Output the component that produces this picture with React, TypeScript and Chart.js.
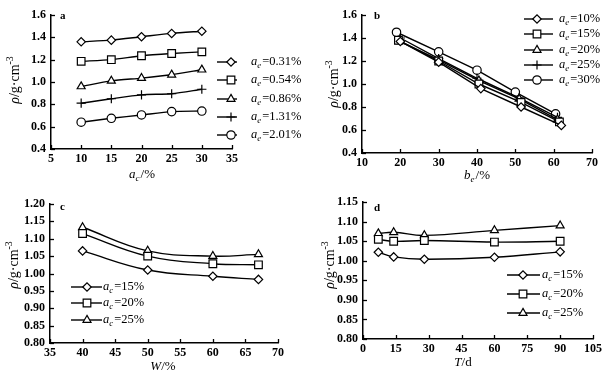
import React, { useEffect, useRef } from 'react';
import { Chart, registerables } from 'chart.js';
import { drawPoint } from 'chart.js/helpers';

Chart.register(...registerables);

const FONT = '"Liberation Serif", "Times New Roman", serif';

// ---------- Panel a : rho vs a_c ----------
const aX = [10, 15, 20, 25, 30];
const aNames = ['=0.31%', '=0.54%', '=0.86%', '=1.31%', '=2.01%'];
const aY031 = [1.36, 1.375, 1.405, 1.435, 1.455];
const aY054 = [1.185, 1.2, 1.235, 1.255, 1.27];
const aY086 = [0.96, 1.01, 1.035, 1.065, 1.11];
const aY131 = [0.81, 0.85, 0.885, 0.895, 0.935];
const aY201 = [0.64, 0.675, 0.705, 0.735, 0.74];

// ---------- Panel b : rho vs b_e ----------
const bNames = ['=10%', '=15%', '=20%', '=25%', '=30%'];
const bX10 = [20, 30, 41, 51.5, 62];
const bY10 = [1.37, 1.19, 0.96, 0.8, 0.64];
const bX15 = [19.5, 30, 40.5, 51.5, 61.5];
const bY15 = [1.38, 1.2, 1.0, 0.84, 0.67];
const bX20 = [20, 30, 40.5, 51, 61];
const bY20 = [1.37, 1.21, 1.03, 0.87, 0.69];
const bX25 = [20, 30, 40, 51, 61];
const bY25 = [1.4, 1.22, 1.05, 0.88, 0.71];
const bX30 = [19, 30, 40, 50, 60.5];
const bY30 = [1.45, 1.28, 1.12, 0.93, 0.74];

// ---------- Panel c : rho vs W ----------
const cX = [40, 50, 60, 67];
const cNames = ['=15%', '=20%', '=25%'];
const cY15 = [1.065, 1.01, 0.992, 0.983];
const cY20 = [1.115, 1.05, 1.028, 1.025];
const cY25 = [1.133, 1.065, 1.05, 1.055];

// ---------- Panel d : rho vs T ----------
const dX = [7, 14, 28, 60, 90];
const dNames = ['=15%', '=20%', '=25%'];
const dY15 = [1.022, 1.01, 1.004, 1.009, 1.023];
const dY20 = [1.055, 1.05, 1.052, 1.048, 1.05];
const dY25 = [1.07, 1.073, 1.065, 1.078, 1.09];

const SHAPES5 = ['rectRot', 'rect', 'triangle', 'cross', 'circle'];
const SHAPES3 = ['rectRot', 'rect', 'triangle'];
const RADIUS: Record<string, number> = { rectRot: 4.2, rect: 5.4, triangle: 4.6, cross: 4.6, circle: 4.2 };

type Part = [string, string];

function setFont(ctx: CanvasRenderingContext2D, style: string, size: number) {
  const italic = style === 'i' || style === 'isub';
  const s = style === 'sub' || style === 'isub' || style === 'sup' ? size * 0.7 : size;
  ctx.font = `${italic ? 'italic ' : ''}${s}px ${FONT}`;
}

function rich(ctx: CanvasRenderingContext2D, parts: Part[], x: number, y: number, size: number, align: string) {
  let total = 0;
  const widths: number[] = [];
  parts.forEach(([t, st]) => {
    setFont(ctx, st, size);
    const w = ctx.measureText(t).width + (st === 'isub' || st === 'sub' ? 1 : 0);
    widths.push(w);
    total += w;
  });
  let cx = align === 'center' ? x - total / 2 : align === 'right' ? x - total : x;
  ctx.textAlign = 'left';
  ctx.textBaseline = 'middle';
  parts.forEach(([t, st], i) => {
    setFont(ctx, st, size);
    let dy = 0;
    if (st === 'sub' || st === 'isub') dy = size * 0.3;
    if (st === 'sup') dy = -size * 0.35;
    ctx.fillText(t, cx, y + dy);
    cx += widths[i];
  });
}

const decor = {
  id: 'decor',
  afterDraw(chart: any) {
    const o = chart.options.plugins.decor;
    if (!o) return;
    const ctx: CanvasRenderingContext2D = chart.ctx;
    const { left, bottom } = chart.chartArea;
    const ox = o.ox, oy = o.oy;
    ctx.save();
    ctx.strokeStyle = '#000';
    ctx.fillStyle = '#000';
    ctx.lineWidth = 1.3;
    const xs = chart.scales.x, ys = chart.scales.y;
    xs.ticks.forEach((t: any) => {
      const px = Math.round(xs.getPixelForValue(t.value)) + 0.5;
      ctx.beginPath(); ctx.moveTo(px, bottom); ctx.lineTo(px, bottom - 4); ctx.stroke();
    });
    ys.ticks.forEach((t: any) => {
      const py = Math.round(ys.getPixelForValue(t.value)) + 0.5;
      ctx.beginPath(); ctx.moveTo(left, py); ctx.lineTo(left + 4, py); ctx.stroke();
    });
    // panel letter
    ctx.font = `bold 11px ${FONT}`;
    ctx.textAlign = 'left';
    ctx.textBaseline = 'middle';
    ctx.fillText(o.letter, o.letterXY[0] - ox, o.letterXY[1] - oy);
    // x title
    rich(ctx, o.xTitle, o.xTitleXY[0] - ox, o.xTitleXY[1] - oy, 13, 'center');
    // y title
    ctx.save();
    ctx.translate(o.yTitleXY[0] - ox, o.yTitleXY[1] - oy);
    ctx.rotate(-Math.PI / 2);
    rich(ctx, [['ρ', 'i'], ['/g·cm', 'n'], ['-3', 'sup']], 0, 0, 14, 'center');
    ctx.restore();
    // legend
    const lg = o.legend;
    chart.data.datasets.forEach((ds: any, i: number) => {
      const y = lg.ys[i] - oy;
      ctx.strokeStyle = '#000';
      ctx.lineWidth = 1.4;
      ctx.beginPath();
      ctx.moveTo(lg.x0 - ox, y);
      ctx.lineTo(lg.x1 - ox, y);
      ctx.stroke();
      ctx.fillStyle = '#fff';
      ctx.lineWidth = 1.2;
      drawPoint(ctx, { pointStyle: ds.pointStyle, radius: ds.pointRadius, borderWidth: 1.2, rotation: 0 } as any, lg.mx - ox, y);
      ctx.fillStyle = '#000';
      rich(ctx, [['a', 'i'], [lg.sub, 'isub'], [ds.label, 'n']], lg.tx - ox, y, 12.5, 'left');
    });
    ctx.restore();
  },
};

function mkSeries(label: string, xs: number[], ys: number[], shape: string, tension: number) {
  return {
    label,
    data: xs.map((x, i) => ({ x, y: ys[i] })),
    borderColor: '#000',
    borderWidth: 1.4,
    pointStyle: shape,
    pointRadius: RADIUS[shape],
    pointBackgroundColor: '#fff',
    pointBorderColor: '#000',
    pointBorderWidth: 1.2,
    tension,
    clip: false,
  };
}

interface PanelCfg {
  left: number; top: number; width: number; height: number;
  area: [number, number, number, number];
  xr: [number, number, number]; yr: [number, number, number]; yDec: number;
  datasets: any[];
  letter: string; letterXY: [number, number];
  xTitle: Part[]; xTitleXY: [number, number]; yTitleXY: [number, number];
  legend: any;
}

function Panel({ cfg }: { cfg: PanelCfg }) {
  const ref = useRef<HTMLCanvasElement>(null);
  useEffect(() => {
    const [L, T, R, B] = cfg.area;
    const yW = L - cfg.left;
    const xH = cfg.top + cfg.height - B;
    const tickFont = { family: FONT, size: 12, weight: 'bold' as const };
    const chart = new Chart(ref.current!, {
      type: 'line',
      data: { datasets: cfg.datasets },
      options: {
        responsive: false,
        animation: false,
        devicePixelRatio: 1,
        layout: { padding: { left: 0, top: T - cfg.top, right: cfg.left + cfg.width - R, bottom: 0 } },
        plugins: {
          legend: { display: false },
          tooltip: { enabled: false },
          decor: {
            ox: cfg.left, oy: cfg.top, letter: cfg.letter, letterXY: cfg.letterXY,
            xTitle: cfg.xTitle, xTitleXY: cfg.xTitleXY, yTitleXY: cfg.yTitleXY, legend: cfg.legend,
          },
        } as any,
        scales: {
          x: {
            type: 'linear',
            min: cfg.xr[0], max: cfg.xr[1],
            grid: { display: false, drawTicks: false },
            border: { display: true, color: '#000', width: 1.5 },
            ticks: {
              stepSize: cfg.xr[2], color: '#000', font: tickFont, padding: 3,
              maxRotation: 0, autoSkip: false,
              callback: (v: any) => String(v),
            },
            afterFit: (s: any) => { s.height = xH; },
          },
          y: {
            type: 'linear',
            min: cfg.yr[0], max: cfg.yr[1],
            grid: { display: false, drawTicks: false },
            border: { display: true, color: '#000', width: 1.5 },
            ticks: {
              stepSize: cfg.yr[2], color: '#000', font: tickFont, padding: 5,
              autoSkip: false,
              callback: (v: any) => Number(v).toFixed(cfg.yDec),
            },
            afterFit: (s: any) => { s.width = yW; },
          },
        },
      },
      plugins: [decor],
    });
    return () => chart.destroy();
  }, [cfg]);
  return (
    <canvas
      ref={ref}
      width={cfg.width}
      height={cfg.height}
      style={{ position: 'absolute', left: cfg.left, top: cfg.top, width: cfg.width, height: cfg.height }}
    />
  );
}

const panelA: PanelCfg = {
  left: 0, top: 0, width: 305, height: 190,
  area: [51, 15, 232, 149],
  xr: [5, 35, 5], yr: [0.4, 1.6, 0.2], yDec: 1,
  datasets: [aY031, aY054, aY086, aY131, aY201].map((ys, i) => mkSeries(aNames[i], aX, ys, SHAPES5[i], 0.25)),
  letter: 'a', letterXY: [60, 16],
  xTitle: [['a', 'i'], ['c', 'isub'], ['/%', 'n']], xTitleXY: [142, 175], yTitleXY: [15, 80],
  legend: { x0: 217, x1: 237, mx: 231, tx: 251, sub: 'e', ys: [62, 80, 99, 117, 135] },
};

const panelB: PanelCfg = {
  left: 305, top: 0, width: 306, height: 190,
  area: [362, 15, 592, 153],
  xr: [10, 70, 10], yr: [0.4, 1.6, 0.2], yDec: 1,
  datasets: [
    mkSeries(bNames[0], bX10, bY10, SHAPES5[0], 0),
    mkSeries(bNames[1], bX15, bY15, SHAPES5[1], 0),
    mkSeries(bNames[2], bX20, bY20, SHAPES5[2], 0),
    mkSeries(bNames[3], bX25, bY25, SHAPES5[3], 0),
    mkSeries(bNames[4], bX30, bY30, SHAPES5[4], 0),
  ],
  letter: 'b', letterXY: [374, 16],
  xTitle: [['b', 'i'], ['e', 'isub'], ['/%', 'n']], xTitleXY: [477, 176], yTitleXY: [334, 84],
  legend: { x0: 524, x1: 553, mx: 537, tx: 559, sub: 'e', ys: [19, 34, 50, 65, 80] },
};

const panelC: PanelCfg = {
  left: 0, top: 190, width: 305, height: 187,
  area: [50, 204, 278, 343],
  xr: [35, 70, 5], yr: [0.8, 1.2, 0.05], yDec: 2,
  datasets: [cY15, cY20, cY25].map((ys, i) => mkSeries(cNames[i], cX, ys, SHAPES3[i], 0.4)),
  letter: 'c', letterXY: [60, 207],
  xTitle: [['W', 'i'], ['/%', 'n']], xTitleXY: [163, 367], yTitleXY: [14, 265],
  legend: { x0: 71, x1: 102, mx: 87, tx: 103, sub: 'c', ys: [287, 303, 320] },
};

const panelD: PanelCfg = {
  left: 305, top: 190, width: 306, height: 187,
  area: [363, 202, 593, 339],
  xr: [0, 105, 15], yr: [0.8, 1.15, 0.05], yDec: 2,
  datasets: [dY15, dY20, dY25].map((ys, i) => mkSeries(dNames[i], dX, ys, SHAPES3[i], 0.4)),
  letter: 'd', letterXY: [374, 208],
  xTitle: [['T', 'i'], ['/d', 'n']], xTitleXY: [463, 363], yTitleXY: [330, 265],
  legend: { x0: 507, x1: 540, mx: 523, tx: 542, sub: 'c', ys: [275, 294, 313] },
};

export default function App() {
  return (
    <div style={{ position: 'absolute', left: 0, top: 0, width: 611, height: 377, background: '#fff' }}>
      <Panel cfg={panelA} />
      <Panel cfg={panelB} />
      <Panel cfg={panelC} />
      <Panel cfg={panelD} />
    </div>
  );
}
